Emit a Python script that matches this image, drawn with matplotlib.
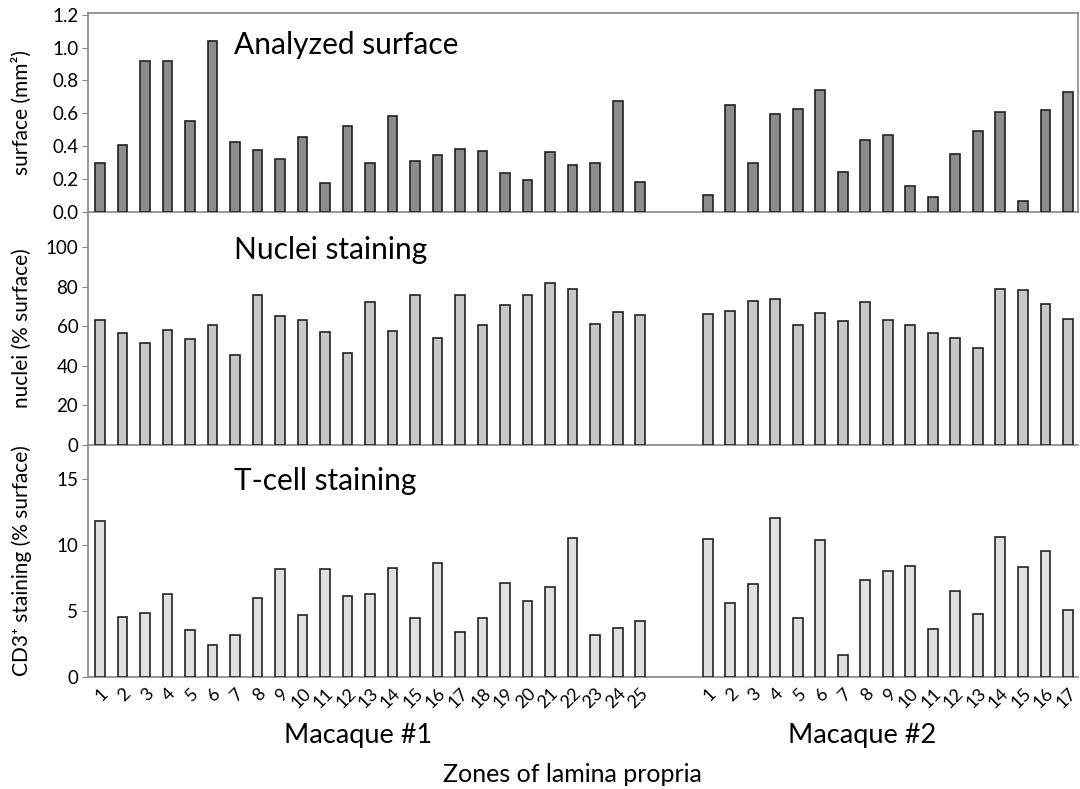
import numpy as np
import matplotlib
matplotlib.use("Agg")
import matplotlib.pyplot as plt

plt.rcParams['font.family'] = ['Lato', 'DejaVu Sans']

# zone labels
zones_m1 = [str(i) for i in range(1, 26)]
zones_m2 = [str(i) for i in range(1, 18)]

# analyzed surface (mm2)
surface_m1 = [0.30, 0.41, 0.92, 0.92, 0.555, 1.04, 0.427, 0.378, 0.321, 0.456, 0.177, 0.523,
              0.299, 0.582, 0.313, 0.346, 0.382, 0.370, 0.238, 0.193, 0.366, 0.287, 0.295, 0.677, 0.183]
surface_m2 = [0.106, 0.653, 0.299, 0.596, 0.624, 0.744, 0.242, 0.435, 0.470, 0.159, 0.094, 0.352,
              0.490, 0.606, 0.069, 0.620, 0.732]

# nuclei staining (% surface)
nuclei_m1 = [63.0, 56.7, 51.4, 58.2, 53.5, 60.4, 45.5, 75.6, 65.4, 63.3, 57.0, 46.3, 72.0,
             57.6, 75.6, 53.8, 75.6, 60.8, 70.8, 75.6, 82.0, 78.9, 61.1, 67.2, 65.9]
nuclei_m2 = [66.2, 67.9, 72.7, 73.9, 60.8, 66.6, 62.8, 72.0, 63.2, 60.4, 56.4, 53.8, 49.1,
             78.8, 78.1, 71.1, 63.8]

# T-cell staining (% surface)
tcell_m1 = [11.83, 4.57, 4.82, 6.27, 3.55, 2.46, 3.22, 6.02, 8.22, 4.72, 8.17, 6.12, 6.32,
            8.27, 4.44, 8.63, 3.45, 4.44, 7.16, 5.76, 6.80, 10.56, 3.22, 3.68, 4.24]
tcell_m2 = [10.5, 5.63, 7.06, 12.06, 4.44, 10.41, 1.65, 7.36, 8.07, 8.45, 3.65, 6.50, 4.77,
            10.61, 8.32, 9.57, 5.05]

gap = 2
x1 = np.arange(len(zones_m1))
x2 = np.arange(len(zones_m2)) + len(zones_m1) + gap
xs = np.concatenate([x1, x2])
labels = zones_m1 + zones_m2

fig = plt.figure(figsize=(10.8, 7.89), dpi=100)
L, W = 88 / 1080, 990 / 1080
ax1 = fig.add_axes([L, 1 - 212 / 789, W, 199 / 789])
ax2 = fig.add_axes([L, 1 - 445 / 789, W, 233 / 789])
ax3 = fig.add_axes([L, 1 - 677 / 789, W, 232 / 789])

panels = [
    (ax1, surface_m1 + surface_m2, '#8c8c8c', (0, 1.21), [0, 0.2, 0.4, 0.6, 0.8, 1.0, 1.2],
     'Analyzed surface', 'surface (mm²)', 0.84),
    (ax2, nuclei_m1 + nuclei_m2, '#c8c8c8', (0, 117.7), [0, 20, 40, 60, 80, 100],
     'Nuclei staining', 'nuclei (% surface)', 0.837),
    (ax3, tcell_m1 + tcell_m2, '#e0e0e0', (0, 17.6), [0, 5, 10, 15],
     'T-cell staining', 'CD3⁺ staining (% surface)', 0.845),
]

for ax, vals, col, ylim, yt, title, ylab, ty in panels:
    ax.bar(xs, vals, width=0.43, color=col, edgecolor='#222222', linewidth=1.2, zorder=3)
    ax.set_xlim(-0.53, 43.45)
    ax.set_ylim(*ylim)
    ax.set_yticks(yt)
    if ax is ax1:
        ax.set_yticklabels(['%.1f' % v for v in yt])
    ax.tick_params(axis='y', labelsize=13.5, length=4, color='#888888', pad=3)
    ax.tick_params(axis='x', length=0)
    for s in ax.spines.values():
        s.set_color('#888888')
        s.set_linewidth(1.2)
    if ax is not ax1:
        ax.spines['top'].set_visible(False)
        ax.spines['right'].set_visible(False)
    ax.set_facecolor('none')
    ax.text(0.147, ty, title, transform=ax.transAxes, fontsize=21.5, va='center', ha='left')
    ax.set_ylabel(ylab, fontsize=15)
    ax.yaxis.set_label_coords(-0.057, 0.5)
    if ax is ax3:
        ax.set_xticks(xs)
        ax.set_xticklabels(labels, rotation=45, ha='right', va='top',
                           rotation_mode='anchor', fontsize=13)
        ax.tick_params(axis='x', pad=6)
    else:
        ax.set_xticks([])

fig.text(358 / 1080, 1 - 736 / 789, 'Macaque #1', fontsize=19.5, ha='center', va='center')
fig.text(862 / 1080, 1 - 736 / 789, 'Macaque #2', fontsize=19.5, ha='center', va='center')
fig.text(572 / 1080, 1 - 775 / 789, 'Zones of lamina propria', fontsize=18, ha='center', va='center')

fig.savefig('out.png', dpi=100)
